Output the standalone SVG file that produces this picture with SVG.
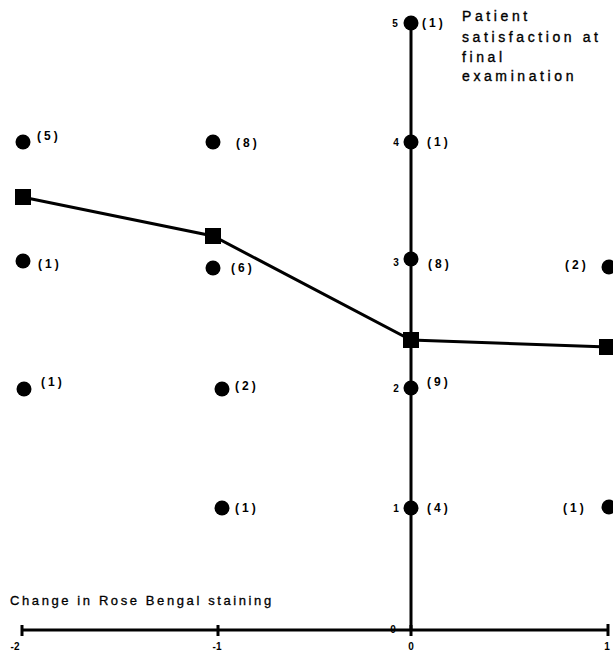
<svg xmlns="http://www.w3.org/2000/svg" width="613" height="656" viewBox="0 0 613 656">
<style>
.lbl{font-family:"Liberation Sans",Arial,sans-serif;font-weight:bold;font-size:12px;letter-spacing:3px;fill:#000}
.tick{font-family:"Liberation Sans",Arial,sans-serif;font-weight:bold;font-size:10px;fill:#000}
.title{font-family:"Liberation Sans",Arial,sans-serif;font-size:14px;letter-spacing:3.6px;fill:#000;stroke:#000;stroke-width:0.35}
.title2{font-family:"Liberation Sans",Arial,sans-serif;font-size:13px;letter-spacing:2.6px;fill:#000;stroke:#000;stroke-width:0.3}
.ax{stroke:#000;stroke-width:3;fill:none}
.dot{fill:#000}
.sq{fill:#000}
</style>
<rect width="613" height="656" fill="#fff"/>
<g id="axes">
<line class="ax" x1="22" y1="630" x2="608" y2="630"/>
<line class="ax" x1="411" y1="20" x2="411" y2="630"/>
<line class="ax" x1="22" y1="625" x2="22" y2="636"/>
<line class="ax" x1="218" y1="625" x2="218" y2="636"/>
<line class="ax" x1="411" y1="625" x2="411" y2="636"/>
<line class="ax" x1="608" y1="624" x2="608" y2="636"/>
<text class="tick" x="15" y="650" text-anchor="middle">-2</text>
<text class="tick" x="217" y="650" text-anchor="middle">-1</text>
<text class="tick" x="411" y="650" text-anchor="middle">0</text>
<text class="tick" x="607" y="650" text-anchor="middle">1</text>
<text class="tick" x="393" y="633" text-anchor="middle" font-size="9">0</text>
<text class="tick" x="395" y="27" text-anchor="middle">5</text>
<text class="tick" x="396" y="146" text-anchor="middle">4</text>
<text class="tick" x="396" y="266" text-anchor="middle">3</text>
<text class="tick" x="396" y="392" text-anchor="middle">2</text>
<text class="tick" x="396" y="512" text-anchor="middle">1</text>
<text class="title2" x="10" y="605">Change in Rose Bengal staining</text>
<text class="title" x="462" y="21">Patient</text>
<text class="title" x="462" y="42">satisfaction at</text>
<text class="title" x="462" y="62">final</text>
<text class="title" x="462" y="81">examination</text>
</g>
<g id="connectors">
<polyline class="ax" points="22,197 213,236 411,340 608,347"/>
</g>
<g id="points">
<circle class="dot" cx="411" cy="23" r="7.5"/>
<circle class="dot" cx="411" cy="142" r="7.5"/>
<circle class="dot" cx="411" cy="259" r="7.5"/>
<circle class="dot" cx="411" cy="388" r="7.5"/>
<circle class="dot" cx="411" cy="508" r="7.5"/>
<circle class="dot" cx="23" cy="142" r="7.5"/>
<circle class="dot" cx="23" cy="261" r="7.5"/>
<circle class="dot" cx="24" cy="389" r="7.5"/>
<circle class="dot" cx="213" cy="142" r="7.5"/>
<circle class="dot" cx="213" cy="268" r="7.5"/>
<circle class="dot" cx="222" cy="389" r="7.5"/>
<circle class="dot" cx="222" cy="508" r="7.5"/>
<circle class="dot" cx="609" cy="267" r="7.5"/>
<circle class="dot" cx="609" cy="507" r="7.5"/>
</g>
<g id="means">
<rect class="sq" x="15" y="189" width="16" height="16"/>
<rect class="sq" x="205" y="228" width="16" height="16"/>
<rect class="sq" x="403" y="332" width="16" height="16"/>
<rect class="sq" x="599" y="339" width="16" height="16"/>
</g>
<g id="counts">
<text class="lbl" x="422" y="27">(1)</text>
<text class="lbl" x="427" y="146">(1)</text>
<text class="lbl" x="428" y="268">(8)</text>
<text class="lbl" x="427" y="386">(9)</text>
<text class="lbl" x="427" y="512">(4)</text>
<text class="lbl" x="37" y="140">(5)</text>
<text class="lbl" x="38" y="268">(1)</text>
<text class="lbl" x="41" y="386">(1)</text>
<text class="lbl" x="236" y="147">(8)</text>
<text class="lbl" x="231" y="272">(6)</text>
<text class="lbl" x="235" y="390">(2)</text>
<text class="lbl" x="235" y="512">(1)</text>
<text class="lbl" x="565" y="269">(2)</text>
<text class="lbl" x="563" y="512">(1)</text>
</g>
</svg>
